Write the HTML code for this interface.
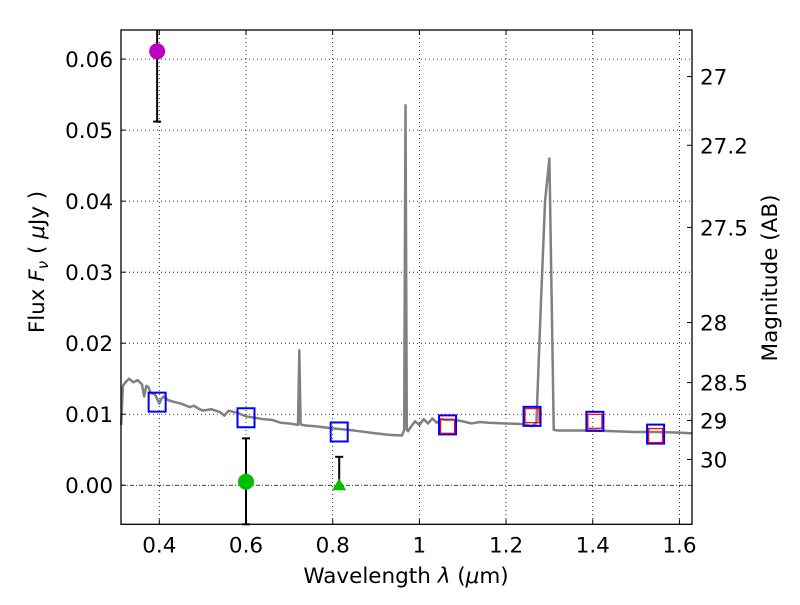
<!DOCTYPE html>
<html><head><meta charset="utf-8"><style>
body{margin:0;background:#fff}
svg text{font-family:"DejaVu Sans","Liberation Sans",sans-serif;font-size:21.5px;fill:#000}
</style></head><body>
<svg id="c" width="800" height="600" xmlns="http://www.w3.org/2000/svg">
<rect width="800" height="600" fill="#fff"/>
<g id="grid"></g>
<g id="marks"></g>
<rect x="121" y="30" width="571" height="494.3" fill="none" stroke="#000" stroke-width="1.3"/>
<g id="axes"></g>
<text x="406" y="583" text-anchor="middle">Wavelength  <tspan font-style="italic">λ</tspan> (<tspan font-style="italic">μ</tspan>m)</text>
<text transform="translate(44,262) rotate(-90)" text-anchor="middle">Flux  <tspan font-style="italic">F<tspan font-size="15" dy="4">ν</tspan></tspan><tspan dy="-4">  ( </tspan><tspan font-style="italic">μ</tspan>Jy )</text>
<text transform="translate(777,278) rotate(-90)" text-anchor="middle">Magnitude (AB)</text>
</svg>
<script>
const xTicks=[0.4,0.6,0.8,1.0,1.2,1.4,1.6];
const xTickLabels=["0.4","0.6","0.8","1","1.2","1.4","1.6"];
const yTicks=[0,0.01,0.02,0.03,0.04,0.05,0.06];
const yTickLabels=["0.00","0.01","0.02","0.03","0.04","0.05","0.06"];
const magTicks=[27,27.2,27.5,28,28.5,29,30];
const magTickLabels=["27","27.2","27.5","28","28.5","29","30"];
const specLam=[0.312,0.316,0.322,0.33,0.34,0.35,0.36,0.365,0.37,0.375,0.38,0.39,0.4,0.405,0.41,0.42,0.43,0.45,0.47,0.48,0.49,0.5,0.52,0.54,0.55,0.56,0.58,0.6,0.62,0.64,0.66,0.68,0.7,0.72,0.723,0.726,0.729,0.74,0.76,0.8,0.85,0.9,0.93,0.96,0.965,0.968,0.971,0.974,0.98,0.99,1.0,1.01,1.02,1.03,1.04,1.05,1.06,1.08,1.1,1.12,1.14,1.16,1.2,1.24,1.26,1.27,1.28,1.29,1.3,1.31,1.32,1.35,1.4,1.45,1.5,1.55,1.6,1.629];
const specFlux=[0.0085,0.014,0.0145,0.015,0.0145,0.0148,0.0142,0.0125,0.014,0.0138,0.013,0.0128,0.0115,0.0122,0.0125,0.012,0.0118,0.0115,0.011,0.0112,0.0108,0.0105,0.0107,0.0103,0.0098,0.0105,0.0102,0.0097,0.0095,0.0093,0.0092,0.0088,0.0087,0.0085,0.019,0.0086,0.0085,0.0084,0.0083,0.008,0.0077,0.0073,0.0071,0.007,0.0078,0.0535,0.0078,0.0076,0.0082,0.009,0.0085,0.0093,0.0087,0.0094,0.0088,0.0093,0.0092,0.0092,0.009,0.0087,0.0089,0.0088,0.0087,0.0086,0.0083,0.0088,0.025,0.04,0.046,0.0078,0.0077,0.0077,0.0077,0.0076,0.0075,0.0075,0.0074,0.0073];
const obsLam=[0.395,0.6,0.815,1.065,1.26,1.405,1.545];
const obsFlux=[0.0117,0.0095,0.0075,0.0085,0.0097,0.009,0.0072];
const modLam=[1.065,1.26,1.405,1.545];
const modFlux=[0.0083,0.0098,0.009,0.007];
const ptLam=[0.395,0.6];
const ptFlux=[0.0611,0.0005];
const ptLo=[0.0512,-0.0055];
const ptHi=[0.07,0.0066];
const ptColor=["#bf00bf","#00bf00"];
const triLam=[0.815];
const triFlux=[0];
const triHi=[0.004];

const X0=121,X1=692,Y0=524.3,Y1=30,xmin=0.3116,xmax=1.629,ymin=-0.0055,ymax=0.0641;
const sx=v=>X0+(v-xmin)/(xmax-xmin)*(X1-X0);
const sy=v=>Y0-(v-ymin)/(ymax-ymin)*(Y0-Y1);
const NS="http://www.w3.org/2000/svg";
function mk(p,t,a){const e=document.createElementNS(NS,t);for(const k in a)e.setAttribute(k,a[k]);document.getElementById(p).appendChild(e);return e;}
xTicks.forEach((v,i)=>{const x=sx(v);
 let g=mk('grid','line',{x1:x,x2:x,y1:Y1,y2:Y0,stroke:'#000','stroke-width':0.8,'stroke-dasharray':'1,3'});
 
 
 mk('axes','line',{x1:x,x2:x,y1:Y0,y2:Y0-5,stroke:'#000'});
 mk('axes','line',{x1:x,x2:x,y1:Y1,y2:Y1+5,stroke:'#000'});
 let t=mk('axes','text',{x:x,y:Y0+28,'text-anchor':'middle'});t.textContent=xTickLabels[i];
 
 
});
yTicks.forEach((v,i)=>{const y=sy(v);
 let g=mk('grid','line',{x1:X0,x2:X1,y1:y,y2:y,stroke:'#000','stroke-width':0.8,'stroke-dasharray':v===0?'4,2,1,2':'1,3'});
 
 
 mk('axes','line',{x1:X0,x2:X0+5,y1:y,y2:y,stroke:'#000'});
 let t=mk('axes','text',{x:X0-8,y:y+8,'text-anchor':'end'});t.textContent=yTickLabels[i];
 
 
});
magTicks.forEach((m,i)=>{const f=Math.pow(10,(23.9-m)/2.5);const y=sy(f);
 mk('axes','line',{x1:X1,x2:X1-5,y1:y,y2:y,stroke:'#000'});
 let t=mk('axes','text',{x:X1+8,y:y+8});t.textContent=magTickLabels[i];
 
 
});
let p=mk('marks','polyline',{points:specLam.map((l,i)=>sx(l)+','+sy(specFlux[i])).join(' '),fill:'none',stroke:'#808080','stroke-width':2.5,'stroke-linejoin':'round'});


obsLam.forEach((l,i)=>{let r=mk('marks','rect',{x:sx(l)-8.5,y:sy(obsFlux[i])-9.5,width:17,height:19,fill:'none',stroke:'#0000ff','stroke-width':2});
 
 });
modLam.forEach((l,i)=>{let r=mk('marks','rect',{x:sx(l)-7,y:sy(modFlux[i])-7,width:14,height:14,fill:'none',stroke:'#ff0000','stroke-width':1.2});
 
 });
ptLam.forEach((l,i)=>{const x=sx(l);
 let e=mk('marks','line',{x1:x,x2:x,y1:sy(ptLo[i]),y2:Math.max(Y1,sy(ptHi[i])),stroke:'#000','stroke-width':2});
 
 
 mk('marks','line',{x1:x-4,x2:x+4,y1:sy(ptLo[i]),y2:sy(ptLo[i]),stroke:'#000','stroke-width':2});
 if(sy(ptHi[i])>Y1)mk('marks','line',{x1:x-4,x2:x+4,y1:sy(ptHi[i]),y2:sy(ptHi[i]),stroke:'#000','stroke-width':2});
 let c=mk('marks','circle',{cx:x,cy:sy(ptFlux[i]),r:8,fill:ptColor[i]});
 
 
});
triLam.forEach((l,i)=>{const x=sx(l),y=sy(triFlux[i]);
 let e=mk('marks','line',{x1:x,x2:x,y1:y,y2:sy(triHi[i]),stroke:'#000','stroke-width':2});
 
 
 mk('marks','line',{x1:x-4,x2:x+4,y1:sy(triHi[i]),y2:sy(triHi[i]),stroke:'#000','stroke-width':2});
 let t=mk('marks','polygon',{points:`${x},${y-7} ${x-7},${y+5} ${x+7},${y+5}`,fill:'#00bf00'});
 
 
});
</script>
</body></html>
